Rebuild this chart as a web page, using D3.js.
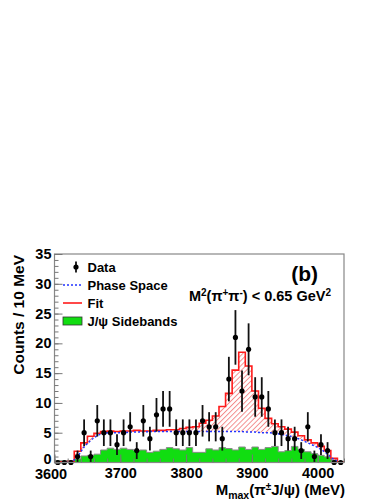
<!DOCTYPE html>
<html>
<head>
<meta charset="utf-8">
<script src="https://cdn.jsdelivr.net/npm/d3@7"></script>
<style>
  body { margin: 0; background: #fff; }
  svg { display: block; font-family: "Liberation Sans", Arial, sans-serif; font-weight: bold; }
</style>
</head>
<body>
<div id="chart"></div>
<script>
// bin centres, 10 MeV bins from 3600 to 4040
const binCenters = d3.range(3605, 4040, 10);

const dataCounts = [0,0,0,1,5,1,7,5,5,3,5,6,2,7,4,8,9,9,5,5,5,5,7,6,6,4,
    14,21,12,19,11,11,9,5,5,4,4,2,6,1,3,2,0,0];

const fitValues = [0.1,0.1,0.2,1.9,3.3,4.4,4.9,5.2,5.3,5.2,5.3,5.3,5.4,5.3,5.3,5.4,
    5.4,5.5,5.5,5.7,5.9,6.0,6.6,7.1,7.8,9.4,11.6,15.5,18.5,16.2,12.0,9.1,7.4,
    6.5,6.0,5.6,5.1,4.5,3.8,3.3,2.7,2.0,0.7,0.1];

const phaseSpace = [0,0,0.1,1.0,2.6,3.7,4.5,4.9,5.0,5.0,5.0,5.1,5.1,5.1,5.2,5.2,
    5.2,5.2,5.2,5.2,5.2,5.2,5.2,5.2,5.2,5.2,5.2,5.2,5.2,5.1,5.1,5.0,5.0,4.9,
    4.7,4.5,4.2,3.8,3.3,2.8,2.2,1.4,0.5,0];

const sidebands = [0.3,0.3,0.3,0.6,1.1,1.2,1.4,2.1,2.4,2.2,2.4,2.2,2.0,2.1,1.7,
    1.9,2.2,2.5,2.3,2.1,2.5,1.7,1.7,2.3,2.1,2.5,2.35,2.1,2.6,2.2,2.6,2.2,2.5,
    2.7,1.8,2.0,2.7,2.2,1.8,1.5,1.2,0.95,0.4,0];

const xTicks = [3600, 3700, 3800, 3900, 4000];
const yTicks = [0, 5, 10, 15, 20, 25, 30, 35];
const legendLabels = ["Data", "Phase Space", "Fit", "J/\u03c8 Sidebands"];

const width = 388, height = 502;
const frame = {left: 54.5, right: 344, top: 254, bottom: 462.5};
const binW = 10;

const svg = d3.select("#chart").append("svg")
    .attr("width", width).attr("height", height)
    .attr("viewBox", [0, 0, width, height]);

const x = d3.scaleLinear().domain([3600, 4040]).range([frame.left, frame.right]);
const y = d3.scaleLinear().domain([0, 35]).range([frame.bottom, frame.top]);

// hatch pattern for the signal part
const defs = svg.append("defs");
const pat = defs.append("pattern")
    .attr("id", "hatch")
    .attr("patternUnits", "userSpaceOnUse")
    .attr("width", 3.6).attr("height", 3.6)
    .attr("patternTransform", "rotate(45)");
pat.append("rect").attr("width", 3.6).attr("height", 3.6).attr("fill", "#fff");
pat.append("line")
    .attr("x1", 0.5).attr("x2", 0.5).attr("y1", 0).attr("y2", 3.6)
    .attr("stroke", "#ee6060")
    .attr("stroke-width", 0.7);
defs.append("clipPath").attr("id", "clip")
  .append("rect")
    .attr("x", frame.left).attr("y", frame.top)
    .attr("width", frame.right - frame.left)
    .attr("height", frame.bottom - frame.top);

// step path helper for histograms
function stepPoints(vals) {
    const pts = [[x(3600), y(0)]];
    vals.forEach((v, i) => {
        const lo = binCenters[i] - binW / 2, hi = binCenters[i] + binW / 2;
        pts.push([x(lo), y(v)], [x(hi), y(v)]);
    });
    pts.push([x(4040), y(0)]);
    return pts;
}

const plot = svg.append("g").attr("clip-path", "url(#clip)");

// hatched area under fit, then blank out under phase space
plot.append("path")
    .attr("d", d3.line()(stepPoints(fitValues)) + "Z")
    .attr("fill", "url(#hatch)");

const psArea = d3.area()
    .x((d, i) => x(binCenters[i]))
    .y0(y(0))
    .y1(d => y(d))
    .curve(d3.curveMonotoneX);
plot.append("path")
    .datum(phaseSpace)
    .attr("d", psArea)
    .attr("fill", "#fff");

// sidebands histogram
plot.append("path")
    .attr("d", d3.line()(stepPoints(sidebands)) + "Z")
    .attr("fill", "#11dd11")
    .attr("stroke", "#8a8a8a")
    .attr("stroke-width", 1);

// fit step line
plot.append("path")
    .attr("d", d3.line()(stepPoints(fitValues)))
    .attr("fill", "none")
    .attr("stroke", "#ff1a1a")
    .attr("stroke-width", 1.6);

// phase space curve
plot.append("path")
    .datum(phaseSpace)
    .attr("d", d3.line()
        .x((d, i) => x(binCenters[i]))
        .y(d => y(d))
        .curve(d3.curveMonotoneX))
    .attr("fill", "none")
    .attr("stroke", "#2233ff")
    .attr("stroke-width", 1.5)
    .attr("stroke-dasharray", "2,2");

// data points with poisson errors
const points = dataCounts.map((c, i) => ({x: binCenters[i], c}));
const pts = svg.append("g");
pts.selectAll("line")
    .data(points)
    .join("line")
    .attr("x1", d => x(d.x)).attr("x2", d => x(d.x))
    .attr("y1", d => y(d.c + Math.sqrt(d.c)))
    .attr("y2", d => y(Math.max(0, d.c - Math.sqrt(d.c))))
    .attr("stroke", "#111")
    .attr("stroke-width", 1.8);
pts.selectAll("circle")
    .data(points)
    .join("circle")
    .attr("cx", d => x(d.x)).attr("cy", d => y(d.c))
    .attr("r", 2.6)
    .attr("fill", "#000");

// frame
svg.append("rect")
    .attr("x", frame.left).attr("y", frame.top)
    .attr("width", frame.right - frame.left)
    .attr("height", frame.bottom - frame.top)
    .attr("fill", "none")
    .attr("stroke", "#888")
    .attr("stroke-width", 1.2);

// axes: major + minor ticks drawn inward
const axisColor = "#777";
const yMinor = svg.append("g").attr("transform", `translate(${frame.left},0)`)
    .call(d3.axisRight(y).tickValues(d3.range(0, 36, 1)).tickSize(4).tickFormat(""));
const yMajor = svg.append("g").attr("transform", `translate(${frame.left},0)`)
    .call(d3.axisRight(y).tickValues(yTicks).tickSize(8).tickFormat(""));
const yLabels = svg.append("g").attr("transform", `translate(${frame.left},0)`)
    .call(d3.axisLeft(y).tickValues(yTicks).tickSize(0).tickPadding(3));

const xMinor = svg.append("g").attr("transform", `translate(0,${frame.bottom})`)
    .call(d3.axisTop(x).tickValues(d3.range(3600, 4041, 20)).tickSize(4).tickFormat(""));
const xMajor = svg.append("g").attr("transform", `translate(0,${frame.bottom})`)
    .call(d3.axisTop(x).tickValues(xTicks).tickSize(8).tickFormat(""));
const xLabels = svg.append("g").attr("transform", `translate(0,${frame.bottom})`)
    .call(d3.axisBottom(x).tickValues(xTicks).tickSize(0).tickPadding(5).tickFormat(d3.format("d")));

[yMinor, yMajor, yLabels, xMinor, xMajor, xLabels].forEach(g => {
    g.select(".domain").remove();
    g.selectAll("line").attr("stroke", axisColor);
});
[yLabels, xLabels].forEach(g => {
    g.selectAll("text")
        .attr("fill", "#000")
        .style("font-size", "14.5px")
        .style("font-weight", "bold")
        .style("font-family", "'Liberation Sans', Arial, sans-serif");
});
// "0" sits just above the corner, "3600" slightly left and lower like the original
yLabels.selectAll("text").filter(d => d === 0).attr("dy", "0.05em");
xLabels.selectAll("text").filter(d => d === 3600).attr("dx", "-4").attr("dy", "0.8em");

// axis titles
svg.append("text")
    .attr("transform", "translate(24,255) rotate(-90)")
    .attr("text-anchor", "end")
    .style("font-size", "15.5px")
    .text("Counts / 10 MeV");

const xt = svg.append("text")
    .attr("x", 345).attr("y", 495)
    .attr("text-anchor", "end")
    .style("font-size", "15px");
xt.append("tspan").text("M");
xt.append("tspan").attr("dy", 4).style("font-size", "10.5px").text("max");
xt.append("tspan").attr("dy", -4).text("(\u03c0");
xt.append("tspan").attr("dy", -5).style("font-size", "10px").text("\u00b1");
xt.append("tspan").attr("dy", 5).text("J/\u03c8) (MeV)");

// labels inside the frame
svg.append("text")
    .attr("x", 318).attr("y", 281)
    .attr("text-anchor", "end")
    .style("font-size", "21px")
    .text("(b)");

const cut = svg.append("text")
    .attr("x", 331).attr("y", 301)
    .attr("text-anchor", "end")
    .style("font-size", "14.5px");
cut.append("tspan").text("M");
cut.append("tspan").attr("dy", -5).style("font-size", "10px").text("2");
cut.append("tspan").attr("dy", 5).text("(\u03c0");
cut.append("tspan").attr("dy", -5).style("font-size", "10px").text("+");
cut.append("tspan").attr("dy", 5).text("\u03c0");
cut.append("tspan").attr("dy", -5).style("font-size", "10px").text("-");
cut.append("tspan").attr("dy", 5).text(") < 0.65 GeV");
cut.append("tspan").attr("dy", -5).style("font-size", "10px").text("2");

// legend
const legY = [267, 285, 303, 321];
const leg = svg.append("g");
leg.selectAll("text")
    .data(legendLabels)
    .join("text")
    .attr("x", 87.5)
    .attr("y", (d, i) => legY[i] + 4.5)
    .style("font-size", "13px")
    .text(d => d);

leg.append("line")
    .attr("x1", 76).attr("x2", 76)
    .attr("y1", legY[0] - 5.5).attr("y2", legY[0] + 5.5)
    .attr("stroke", "#111").attr("stroke-width", 1.8);
leg.append("circle")
    .attr("cx", 76).attr("cy", legY[0]).attr("r", 2.6).attr("fill", "#000");
leg.append("line")
    .attr("x1", 63).attr("x2", 82).attr("y1", legY[1]).attr("y2", legY[1])
    .attr("stroke", "#2233ff").attr("stroke-width", 1.5).attr("stroke-dasharray", "2,2");
leg.append("line")
    .attr("x1", 63).attr("x2", 82).attr("y1", legY[2]).attr("y2", legY[2])
    .attr("stroke", "#ff1a1a").attr("stroke-width", 1.6);
leg.append("rect")
    .attr("x", 63).attr("y", legY[3] - 4).attr("width", 19).attr("height", 8)
    .attr("fill", "#11dd11").attr("stroke", "#333").attr("stroke-width", 0.8);
</script>
</body>
</html>
